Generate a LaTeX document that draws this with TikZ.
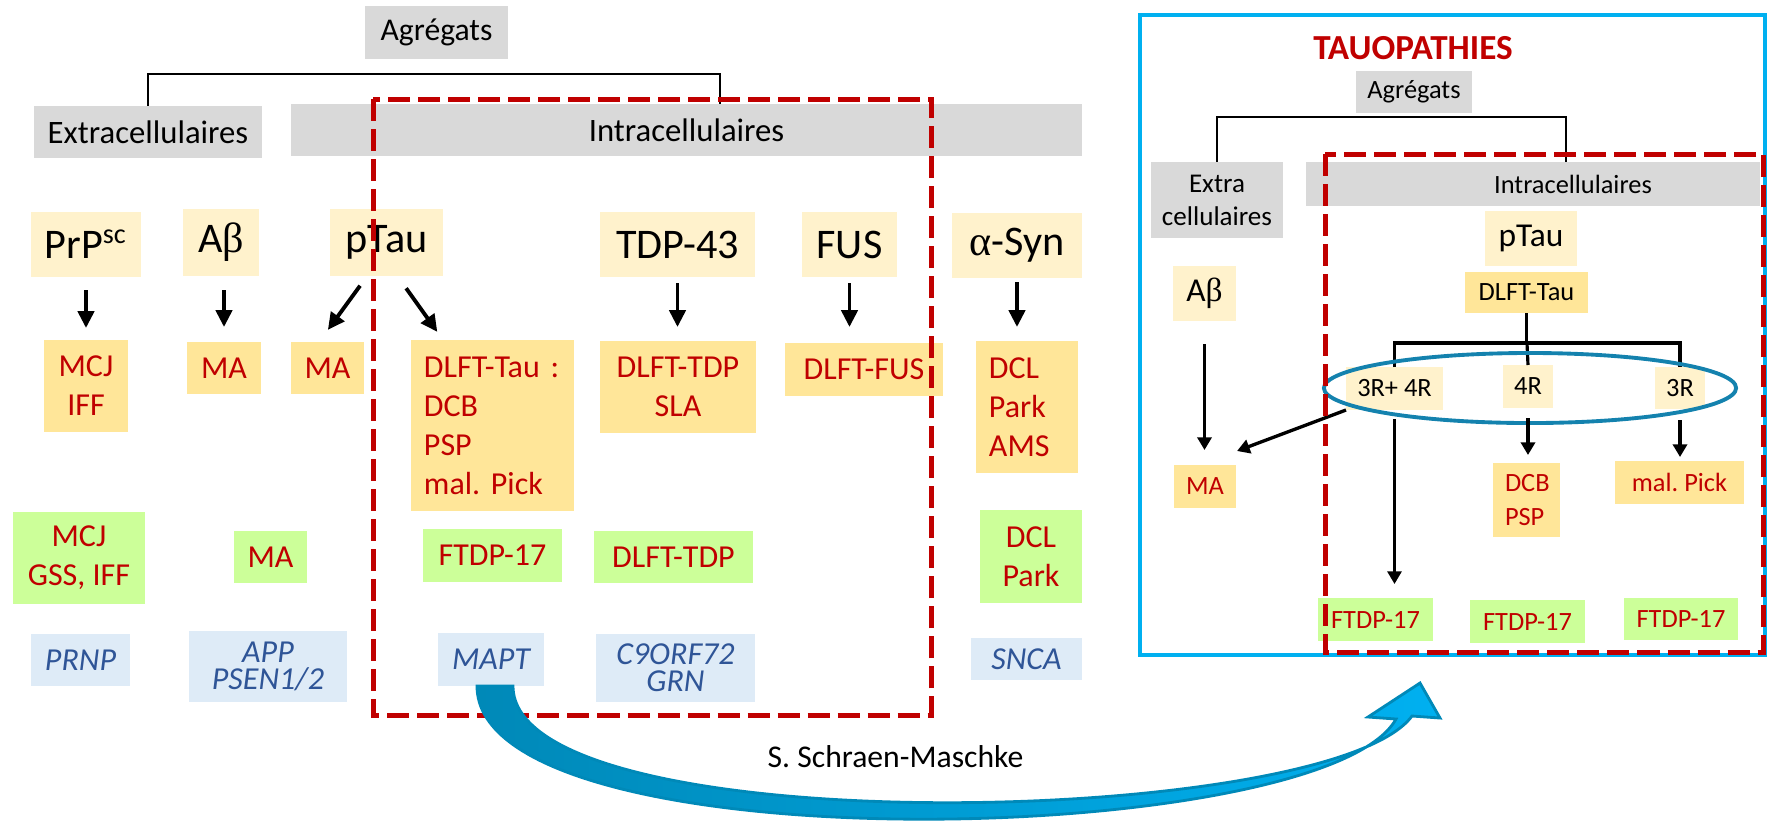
\documentclass[tikz,border=0pt]{standalone}
\usepackage{fontspec}
\setmainfont{Carlito}
\newfontfamily\grk{Liberation Serif}
\usetikzlibrary{arrows.meta,calc}
\frenchspacing
\definecolor{grayfill}{HTML}{D9D9D9}
\definecolor{protfill}{HTML}{FFF2CC}
\definecolor{disfill}{HTML}{FFE699}
\definecolor{mutfill}{HTML}{CCFF99}
\definecolor{genefill}{HTML}{DEEBF7}
\definecolor{redtxt}{HTML}{C00000}
\definecolor{genetxt}{HTML}{2F5597}
\definecolor{frameblue}{HTML}{00B0F0}
\definecolor{ellblue}{HTML}{1482AE}
\definecolor{arrdark}{HTML}{0089B8}
\definecolor{arrlight}{HTML}{00B0F0}
\begin{document}
\begin{tikzpicture}[x=0.01cm,y=-0.01cm,
  every node/.style={inner sep=0pt,outer sep=0pt},
  wh/.style 2 args={minimum width=#1cm,minimum height=#2cm},
  graybox/.style={fill=grayfill,font=\fontsize{9.3}{11}\selectfont},
  prot/.style={fill=protfill,font=\fontsize{12}{14}\selectfont},
  dis/.style={fill=disfill,text=redtxt,align=center,font=\fontsize{9.1}{11.1}\selectfont},
  mut/.style={fill=mutfill,text=redtxt,align=center,font=\fontsize{9.1}{11.1}\selectfont},
  gene/.style={fill=genefill,text=genetxt,align=center,font=\fontsize{9.1}{7.7}\selectfont\itshape},
  sm/.style={font=\fontsize{7.5}{9.4}\selectfont},
  mid/.style={font=\fontsize{9.5}{11}\selectfont},
  arr/.style={line width=1.1pt,-{Triangle[width=4.6pt,length=4.8pt]}},
  arrR/.style={line width=0.95pt,-{Triangle[width=4pt,length=3.6pt]}},
  brk/.style={line width=0.6pt},
  redbox/.style={draw=redtxt,line width=1.42pt,dash pattern=on 0.22cm off 0.08cm},
  bigarrow/.style={draw=arrdark,line width=0.8pt,left color=arrdark,middle color=arrdark,right color=arrlight}]
  \useasboundingbox (0,0) rectangle (1769,823);

  \node[graybox,wh={1.43}{0.53},font=\fontsize{9}{11}\selectfont] (agr) at (436.5,32.5) {Agrégats};
  \node[graybox,wh={2.28}{0.52}] (extra) at (148,132) {Extracellulaires};
  \node[graybox,wh={7.91}{0.52}] (intra) at (686.5,130) {Intracellulaires};
  \draw[brk] (extra.north) -- ++(0,-32) -| ($(intra.north)+(33.5,0)$);

  \node[prot,wh={1.10}{0.65}] (prp) at (86,244.5) {PrP\textsuperscript{sc}};
  \node[prot,wh={0.76}{0.67}] (ab) at (221,242.5) {A{\grk β}};
  \node[prot,wh={1.13}{0.67}] (ptau) at (386.5,242.5) {pTau};
  \node[prot,wh={1.55}{0.65}] (tdp) at (677.5,244.5) {TDP-43};
  \node[prot,wh={0.95}{0.65}] (fus) at (849.5,244.5) {FUS};
  \node[prot,wh={1.30}{0.65}] (asyn) at (1017,245.5) {{\grk α}-Syn};

  \node[dis,wh={0.84}{0.92}] (mcj) at (86,386) {MCJ\\IFF};
  \node[dis,wh={0.74}{0.52}] (ma1) at (224,368) {MA};
  \node[dis,wh={0.73}{0.52}] (ma2) at (327.5,368) {MA};
  \node[dis,wh={1.63}{1.71},text width=1.37cm,inner xsep=0.13cm,align=left] (dlfttau) at (492.5,425.5) {DLFT-Tau :\\DCB\\PSP\\mal. Pick};
  \node[dis,wh={1.56}{0.92}] (dlfttdp) at (678,387) {DLFT-TDP\\SLA};
  \node[dis,wh={1.58}{0.53}] (dlftfus) at (864,369.5) {DLFT-FUS};
  \node[dis,wh={1.02}{1.32},text width=0.76cm,inner xsep=0.13cm,align=left] (dcl) at (1027,407) {DCL\\Park\\AMS};

  \node[mut,wh={1.32}{0.92}] (mcjg) at (79,558) {MCJ\\GSS, IFF};
  \node[mut,wh={0.73}{0.52}] (mag) at (270.5,557) {MA};
  \node[mut,wh={1.39}{0.53}] (ftdp) at (492.5,555.5) {FTDP-17};
  \node[mut,wh={1.59}{0.52}] (dlfttdpg) at (673.5,557) {DLFT-TDP};
  \node[mut,wh={1.02}{0.93}] (dclg) at (1031,556.5) {DCL\\Park};

  \node[gene,wh={0.99}{0.52}] (prnp) at (80.5,660) {PRNP};
  \node[gene,wh={1.58}{0.71}] (app) at (268,666.5) {APP\\PSEN1/2};
  \node[gene,wh={1.06}{0.53}] (mapt) at (491,659.5) {MAPT};
  \node[gene,wh={1.59}{0.68}] (c9) at (675.5,668) {C9ORF72\\GRN};
  \node[gene,wh={1.11}{0.42}] (snca) at (1026.5,659) {SNCA};

  \draw[arr,shorten <=0.13cm,shorten >=0.12cm] (prp.south) -- (prp.south |- mcj.north);
  \draw[arr,shorten <=0.14cm,shorten >=0.15cm] (ma1.north |- ab.south) -- (ma1.north);
  \draw[arr,shorten <=0.12cm,shorten >=0.15cm] (ptau.240) -- (ma2.108);
  \draw[arr,shorten <=0.15cm,shorten >=0.10cm] (ptau.288) -- (dlfttau.120);
  \draw[arr,shorten <=0.06cm,shorten >=0.14cm] (tdp.south) -- (tdp.south |- dlfttdp.north);
  \draw[arr,shorten <=0.06cm,shorten >=0.16cm] (fus.south) -- (fus.south |- dlftfus.north);
  \draw[arr,shorten <=0.04cm,shorten >=0.14cm] (asyn.south) -- (asyn.south |- dcl.north);

  \node[font=\fontsize{9}{11}\selectfont] (auth) at (895.5,757) {S. Schraen-Maschke};

  \draw[redbox] (373,99) rectangle (931,715);

  \draw[draw=frameblue,line width=1.3pt] (1140,15) rectangle (1765,655);
  \node[text=redtxt,font=\bfseries\fontsize{10}{12}\selectfont] (ttl) at (1413,48) {TAUOPATHIES};
  \node[graybox,sm,wh={1.16}{0.42}] (agr2) at (1414,92) {Agrégats};
  \node[graybox,wh={1.32}{0.76},align=center,font=\fontsize{7.7}{9.4}\selectfont] (extra2) at (1217,200) {Extra\\cellulaires};
  \node[graybox,wh={4.54}{0.44}] (intra2) at (1533,184) {};
  \node[sm] (intra2t) at (1573,184) {Intracellulaires};
  \draw[brk,line width=0.7pt] (extra2.north) -- ++(0,-45) -| ($(intra2.north)+(33,0)$);

  \node[prot,mid,wh={0.92}{0.55}] (ptau2) at (1531,238.5) {pTau};
  \node[fill=disfill,sm,wh={1.23}{0.41}] (dlft2) at (1526.5,292.5) {DLFT-Tau};
  \node[prot,mid,wh={0.63}{0.55}] (ab2) at (1204.5,293.5) {A{\grk β}};
  \node[prot,sm,wh={0.97}{0.43}] (r34) at (1394.5,388.5) {3R+ 4R};
  \node[prot,sm,wh={0.50}{0.43}] (r4) at (1528,386.5) {4R};
  \node[prot,sm,wh={0.50}{0.42}] (r3) at (1680,388) {3R};
  \coordinate (split) at (1527,343);
  \draw[line width=0.9pt] (dlft2.south) -- (dlft2.south |- split);
  \draw[line width=0.9pt] (r34.north) |- (split) -| (r3.north);
  \draw[line width=0.9pt] (split) -- (r4.north);
  \draw[draw=ellblue,line width=1.1pt] (1530,388) ellipse [x radius=2.06cm,y radius=0.35cm];

  \node[dis,sm,wh={0.62}{0.43}] (ma4) at (1205,486.5) {MA};
  \node[dis,sm,wh={0.67}{0.74},text width=0.43cm,inner xsep=0.12cm,align=left] (dcb) at (1526.5,500) {DCB\\PSP};
  \node[dis,sm,wh={1.29}{0.43}] (pick) at (1679.5,482.5) {mal. Pick};
  \node[mut,sm,wh={1.15}{0.43}] (ftdp1) at (1375.5,619.5) {FTDP-17};
  \node[mut,sm,wh={1.15}{0.43}] (ftdp2) at (1527.5,621.5) {FTDP-17};
  \node[mut,sm,wh={1.14}{0.42}] (ftdp3) at (1681,619) {FTDP-17};

  \draw[arrR,shorten <=0.23cm,shorten >=0.15cm] (ab2.south) -- (ab2.south |- ma4.north);
  \draw[arrR] (r34.south west) -- ($(ma4.north east)+(1,-14)$);
  \draw[arrR,line width=0.75pt,shorten <=0.09cm,shorten >=0.14cm] (r34.south) -- (r34.south |- ftdp1.north);
  \draw[arrR,shorten <=0.10cm,shorten >=0.08cm] (r4.south) -- (r4.south |- dcb.north);
  \draw[arrR,shorten <=0.11cm,shorten >=0.04cm] (r3.south) -- (r3.south |- pick.north);

  \draw[redbox] (1325,154) rectangle (1763,652);

  \shadedraw[bigarrow] ($(mapt.south)+(-14,0)$) .. controls +(0,182) and (1325,848) .. (1396,719)
    -- (1368,717) -- (1420,683) -- (1440,718) -- (1412,716)
    .. controls (1330,828) and (513,845) .. ($(mapt.south)+(22,0)$) -- cycle;
\end{tikzpicture}
\end{document}
